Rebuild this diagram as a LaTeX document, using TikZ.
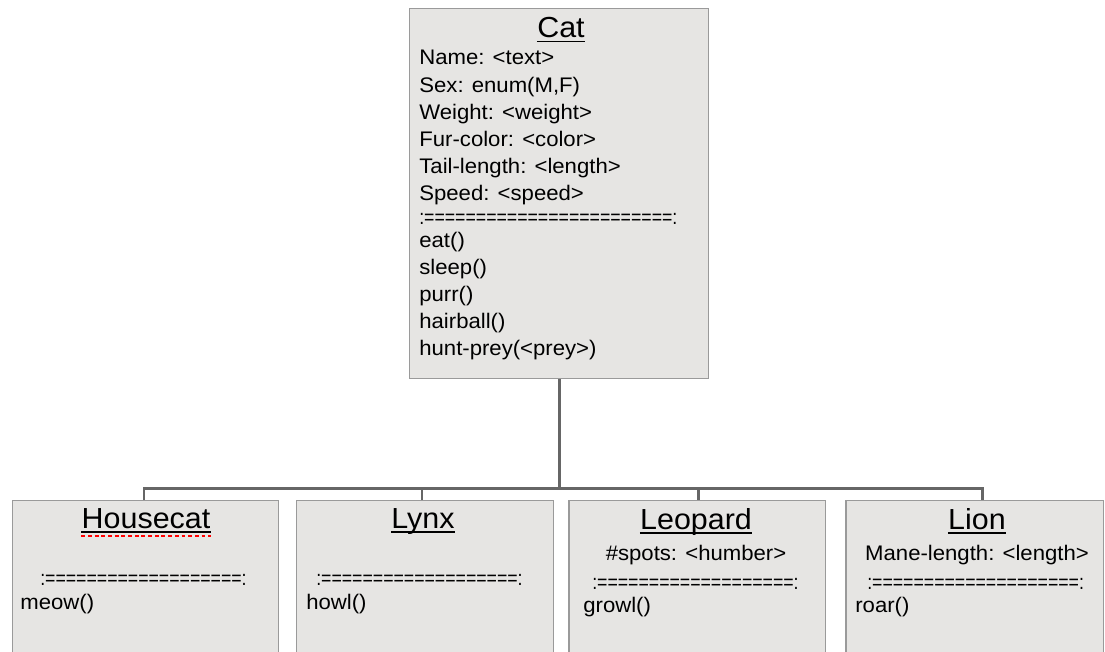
\documentclass[tikz,border=0pt]{standalone}
\usepackage{fontspec}
\setmainfont[FakeStretch=1.05]{Liberation Sans}
\usetikzlibrary{calc, positioning}

\begin{document}
\begin{tikzpicture}[x=0.02cm, y=-0.02cm]
    % Define colours
    \definecolor{boxFill}{HTML}{E6E5E3}
    \definecolor{boxBorder}{HTML}{9A9A9A}
    \definecolor{linkColour}{HTML}{666666}

    \tikzset{
        classbox/.style={draw=boxBorder, fill=boxFill, line width=0.85pt, anchor=north west, inner sep=0pt},
        classname/.style={font=\fontsize{16.5}{19}\selectfont, anchor=base, inner sep=0pt},
        member/.style={font=\fontsize{12}{15}\selectfont, anchor=base west, inner sep=0pt},
        centred/.style={font=\fontsize{12}{15}\selectfont, anchor=base, inner sep=0pt},
        divider/.style={font=\fontsize{12}{15}\selectfont, anchor=base west, inner sep=0pt, xscale=0.8, transform shape},
        uline/.style={line width=1.1pt},
        link/.style={draw=linkColour, line width=1.7pt},
    }

    % Page size
    \useasboundingbox (0,0) rectangle (1105,652);
    \clip (0,0) rectangle (1105,652);

    % Class boxes
    \node[classbox, minimum width=5.98cm, minimum height=7.4cm] (cat) at (409,8) {};
    \node[classbox, minimum width=5.32cm, minimum height=3.4cm] (hc) at (12,500) {};
    \node[classbox, minimum width=5.14cm, minimum height=3.4cm] (lynx) at (296,500) {};
    \node[classbox, minimum width=5.14cm, minimum height=3.4cm] (leo) at (568,500) {};
    \node[classbox, minimum width=5.16cm, minimum height=3.4cm] (lion) at (845,500) {};

    % Inheritance lines
    \coordinate (bar) at ($(cat.south)+(0,109)$);
    \draw[link] (cat.south) -- (bar);
    \draw[link] (bar) -| ($(hc.north west)+(132,0)$);
    \draw[link] (bar) -| ($(lynx.north west)+(126,0)$);
    \draw[link] (bar) -| ($(leo.north west)+(130,0)$);
    \draw[link] (bar) -| ($(lion.north west)+(137,0)$);

    % Cat
    \node[classname] (catT) at (561,38) {Cat};
    \draw[uline] ([yshift=-2pt]catT.base west) -- ([yshift=-2pt]catT.base east);
    \foreach \txt [count=\i from 0] in {{Name: <text>}, {Sex: enum(M,F)}, {Weight: <weight>},
            {Fur-color: <color>}, {Tail-length: <length>}, {Speed: <speed>}}
        \node[member] (catA\i) at (419,65+27.1*\i) {\txt};
    \node[divider] (catD) at (419,224) {:========================:};
    \foreach \txt [count=\i from 0] in {eat(), sleep(), purr(), hairball(), hunt-prey(<prey>)}
        \node[member] (catM\i) at (419,247+27.1*\i) {\txt};

    % Housecat
    \node[classname] (hcT) at (146,528) {Housecat};
    \draw[uline] ([yshift=-2.3pt]hcT.base west) -- ([yshift=-2.3pt]hcT.base east);
    \draw[red, line width=0.8pt, dash pattern=on 2.2pt off 1.6pt] ([yshift=-4.6pt]hcT.base west) -- ([yshift=-4.6pt]hcT.base east);
    \node[divider] (hcD) at (40,585) {:===================:};
    \node[member] (hcM) at (20,609) {meow()};

    % Lynx
    \node[classname] (lynxT) at (423,528) {Lynx};
    \draw[uline] ([yshift=-2.3pt]lynxT.base west) -- ([yshift=-2.3pt]lynxT.base east);
    \node[divider] (lynxD) at (316,585) {:===================:};
    \node[member] (lynxM) at (306,609) {howl()};

    % Leopard
    \node[classname] (leoT) at (696,529) {Leopard};
    \draw[uline] ([yshift=-2.3pt]leoT.base west) -- ([yshift=-2.3pt]leoT.base east);
    \node[centred] (leoA) at (696,560) {\#spots: <humber>};
    \node[divider] (leoD) at (592,589) {:===================:};
    \node[member] (leoM) at (583,612) {growl()};

    % Lion
    \node[classname] (lionT) at (977,529) {Lion};
    \draw[uline] ([yshift=-2.3pt]lionT.base west) -- ([yshift=-2.3pt]lionT.base east);
    \node[centred] (lionA) at (977,560) {Mane-length: <length>};
    \node[divider] (lionD) at (867,589) {:====================:};
    \node[member] (lionM) at (855,612) {roar()};

\end{tikzpicture}
\end{document}
